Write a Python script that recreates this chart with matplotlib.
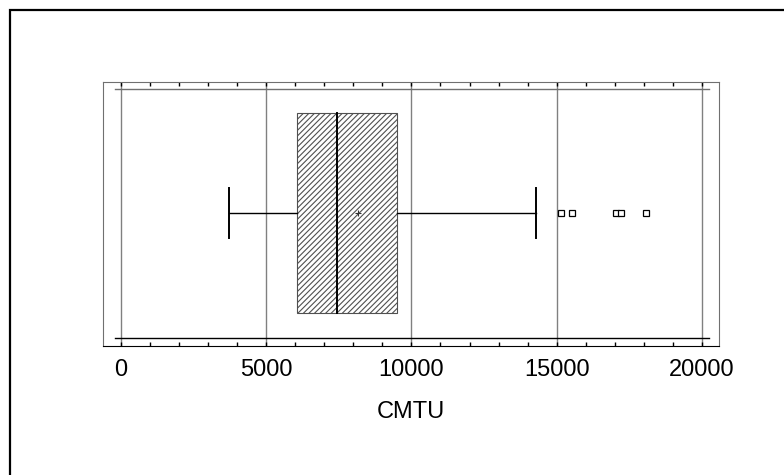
import numpy as np
import matplotlib.pyplot as plt
from matplotlib.patches import Rectangle

plt.rcParams['font.family'] = ['Liberation Sans', 'DejaVu Sans']
plt.rcParams['hatch.linewidth'] = 0.8

# box plot summary (CMTU)
q1 = 6070
median = 7450
q3 = 9520
mean = 8170
whisker_lo = 3720
whisker_hi = 14300
outliers = [15140, 15520, 17030, 17210, 18070]

xticks = [0, 5000, 10000, 15000, 20000]
xlabel = 'CMTU'

fig = plt.figure(figsize=(7.84, 4.75), dpi=100)
ax = fig.add_axes([103 / 784, 1 - 346 / 475, 616 / 784, 264 / 475])

ypos = 0.504
half = 0.379

# box
ax.add_patch(Rectangle((q1, ypos - half), q3 - q1, 2 * half, facecolor='white',
                       edgecolor='#505050', hatch='//////', linewidth=0.8, zorder=3))
ax.plot([median, median], [ypos - half, ypos + half], color='black', lw=1.4, zorder=4)
ax.plot([mean], [ypos], marker='+', color='#333333', ms=5, mew=0.8, zorder=5)

# whiskers and caps
ax.plot([whisker_lo, q1], [ypos, ypos], color='black', lw=1, zorder=3)
ax.plot([q3, whisker_hi], [ypos, ypos], color='black', lw=1, zorder=3)
for w in (whisker_lo, whisker_hi):
    ax.plot([w, w], [ypos - 0.095, ypos + 0.095], color='black', lw=1.4, zorder=3)

ax.plot(outliers, [ypos] * len(outliers), linestyle='none', marker='s', ms=4.5,
        mfc='white', mec='black', mew=0.9, zorder=5)

# inner frame lines
ax.plot([-200, 20250], [0.973, 0.973], color='#707070', lw=1, zorder=2)
ax.plot([-200, 20250], [0.030, 0.030], color='black', lw=1, zorder=2)

ax.set_xlim(-620, 20590)
ax.set_ylim(0, 1)
ax.set_xticks(xticks)
ax.set_xticks(np.arange(0, 20001, 1000), minor=True)
ax.set_yticks([])
ax.xaxis.grid(True, which='major', color='#808080', lw=1)
ax.set_axisbelow(True)
ax.tick_params(axis='x', which='both', direction='in', top=True, bottom=True,
               length=3, width=1, color='black')
ax.tick_params(axis='x', which='major', labelsize=17, pad=9)
for side in ('left', 'top', 'right'):
    ax.spines[side].set_color('#707070')
ax.spines['bottom'].set_color('black')
ax.set_xlabel(xlabel, fontsize=17, labelpad=15)

# outer frame of the figure
fig.patches.append(Rectangle((10 / 784, -0.1), 1.2, 1.1 - 10 / 475,
                             transform=fig.transFigure, fill=False,
                             edgecolor='black', linewidth=1.6))

fig.savefig('out.png', dpi=100)
